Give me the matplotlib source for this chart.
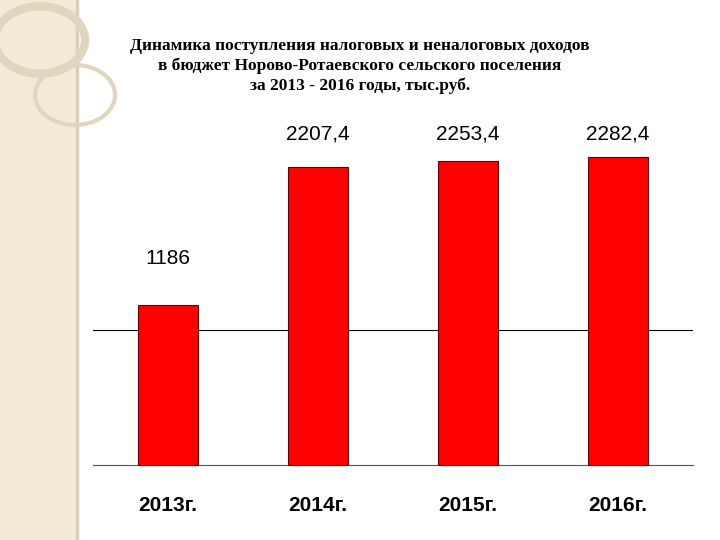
import matplotlib
matplotlib.use("Agg")
import matplotlib.pyplot as plt
from matplotlib.patches import Rectangle, Circle

categories = ["2013г.", "2014г.", "2015г.", "2016г."]
values = [1186, 2207.4, 2253.4, 2282.4]
labels = ["1186", "2207,4", "2253,4", "2282,4"]
label_y = [1460, 2380, 2380, 2380]

fig = plt.figure(figsize=(7.2, 5.4), dpi=100)
fig.patches.append(Rectangle((0, 0), 75/720, 1, transform=fig.transFigure, color="#f2ead6", zorder=0))
fig.patches.append(Rectangle((76/720, 0), 2/720, 1, transform=fig.transFigure, color="#d9cfb8", zorder=0))
for (cx, cy, r, lw) in [(40, 40, 45, 6), (75, 95, 40, 3)]:
    fig.patches.append(Circle((cx/720, 1-cy/540), r/720, transform=fig.transFigure, fill=False,
                              ec="#e0d6c0", lw=lw, zorder=0))

ax = fig.add_axes([93/720, 75/540, 600/720, (465-127.5)/540])
x = range(len(categories))
ax.bar(x, values, width=0.4, color="#ff0000", edgecolor="#600000", lw=0.8, clip_on=False, zorder=3)
ax.set_xlim(-0.5, 3.5)
ax.set_ylim(0, 2500)
ax.axhline(1000, color="black", lw=0.8, zorder=1)
for s in ["top", "right", "left"]:
    ax.spines[s].set_visible(False)
ax.spines["bottom"].set_color("#555555")
ax.set_yticks([])
ax.set_xticks(list(x))
ax.set_xticklabels(categories, fontsize=15, fontweight="bold", family="Liberation Sans")
ax.tick_params(axis="x", length=0, pad=22)
for xi, l, ly in zip(x, labels, label_y):
    ax.text(xi, ly, l, ha="center", va="bottom", fontsize=15, family="Liberation Sans")
fig.text(0.5, 0.93, "Динамика поступления налоговых и неналоговых доходов\nв бюджет Норово-Ротаевского сельского поселения\nза 2013 - 2016 годы, тыс.руб.",
         ha="center", va="top", fontsize=12.5, fontweight="bold", family="Liberation Serif", linespacing=1.3)
fig.savefig("out.png", dpi=100)
